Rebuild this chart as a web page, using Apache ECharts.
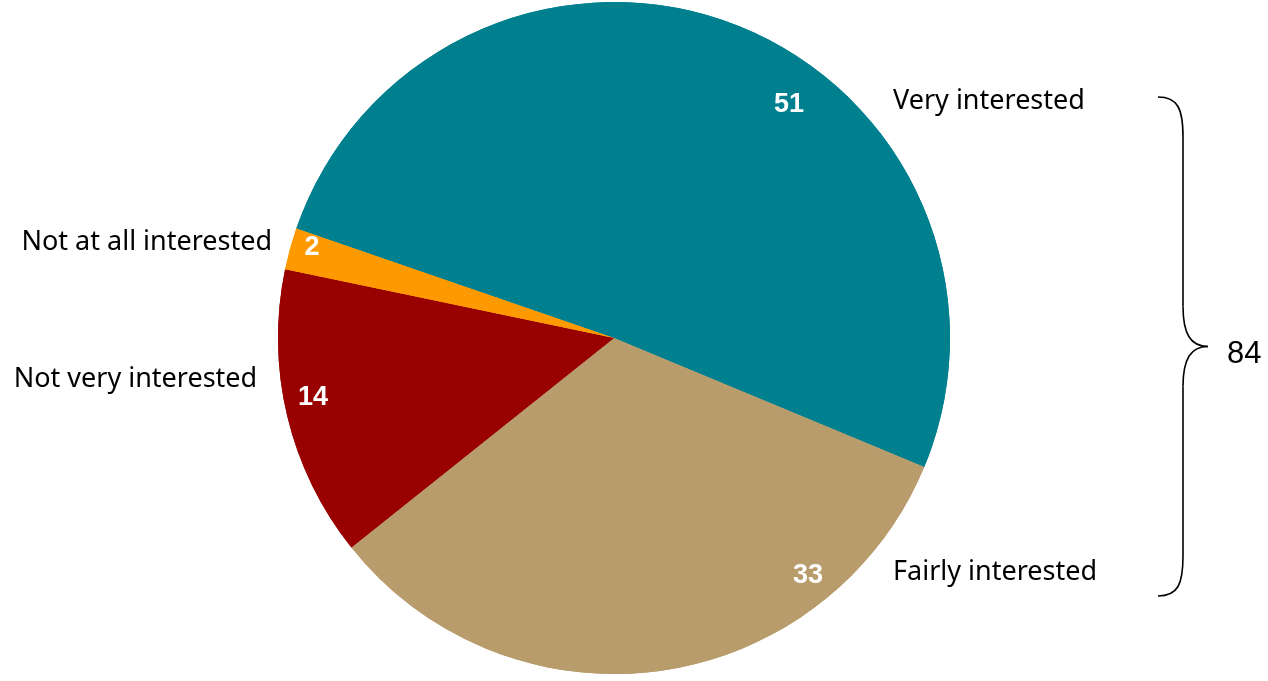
<!DOCTYPE html>
<html>
<head>
<meta charset="utf-8">
<title>Interest</title>
<script src="https://cdn.jsdelivr.net/npm/echarts@6/dist/echarts.min.js"></script>
<style>
  html, body { margin: 0; padding: 0; background: #fff; }
  #chart { width: 1268px; height: 681px; }
</style>
</head>
<body>
<div id="chart"></div>
<script>
// Survey answers, in drawing order (clockwise from the start angle)
const categories = ['Very interested', 'Fairly interested', 'Not very interested', 'Not at all interested'];
const values = [51, 33, 14, 2];
const colors = ['#00808F', '#B89C6C', '#990000', '#FF9900'];
// Bracketed subtotal: very + fairly interested
const bracketLabel = String(values[0] + values[1]);

// Layout of the pie (pixels)
const CX = 614, CY = 338, R = 336;
const START_ANGLE = 161;

// Where each label sits: polar angle (deg) and distance as a fraction of R
const valueLabelAngle = [53.1, -50.7, 191.1, 163.4];
const valueLabelDist = [0.867, 0.912, 0.913, 0.938];
const nameLabelAngle = [40.3, -40.0, 186.6, 164.3];
const nameLabelDist = [1.089, 1.084, 1.069, 1.057];

function polar(angleDeg, dist) {
  const a = angleDeg * Math.PI / 180;
  return { x: CX + Math.cos(a) * dist * R, y: CY - Math.sin(a) * dist * R };
}

const data = categories.map((name, i) => ({
  name, value: values[i], itemStyle: { color: colors[i] }
}));

const chart = echarts.init(document.getElementById('chart'), null, { renderer: 'canvas' });

// Curly brace spanning the two "interested" answers
const bx = 1183, bTop = 97, bBot = 596, bMid = (bTop + bBot) / 2, bw = 25;
const braceStyle = { stroke: '#000000', lineWidth: 1.6, fill: null };
function curve(x1, y1, cpx1, cpy1, cpx2, cpy2, x2, y2) {
  return { type: 'bezierCurve', shape: { x1, y1, x2, y2, cpx1, cpy1, cpx2, cpy2 }, style: braceStyle };
}
function seg(x1, y1, x2, y2) {
  return { type: 'line', shape: { x1, y1, x2, y2 }, style: braceStyle };
}
const brace = [
  curve(bx - bw, bTop, bx - 5, bTop, bx, bTop + 12, bx, bTop + 40),
  seg(bx, bTop + 40, bx, bMid - 40),
  curve(bx, bMid - 40, bx, bMid - 12, bx + 8, bMid, bx + bw, bMid),
  curve(bx + bw, bMid, bx + 8, bMid, bx, bMid + 12, bx, bMid + 40),
  seg(bx, bMid + 40, bx, bBot - 40),
  curve(bx, bBot - 40, bx, bBot - 12, bx - 5, bBot, bx - bw, bBot)
];

chart.setOption({
  animation: false,
  backgroundColor: '#ffffff',
  series: [
    {
      type: 'pie',
      center: [CX, CY],
      radius: [0, R],
      startAngle: START_ANGLE,
      clockwise: true,
      data: data,
      silent: true,
      itemStyle: { borderWidth: 0 },
      label: {
        show: true,
        position: 'inside',
        formatter: '{c}',
        color: '#ffffff',
        fontFamily: 'Liberation Sans, Arial, sans-serif',
        fontWeight: 'bold',
        fontSize: 27
      },
      labelLine: { show: false },
      labelLayout: function (p) {
        const pt = polar(valueLabelAngle[p.dataIndex], valueLabelDist[p.dataIndex]);
        return { x: pt.x, y: pt.y, align: 'center', verticalAlign: 'middle' };
      }
    },
    {
      type: 'pie',
      center: [CX, CY],
      radius: [0, R],
      startAngle: START_ANGLE,
      clockwise: true,
      data: data,
      silent: true,
      itemStyle: { color: 'rgba(0,0,0,0)', borderWidth: 0 },
      label: {
        show: true,
        position: 'inside',
        overflow: 'none',
        formatter: '{b}',
        color: '#000000',
        fontFamily: 'Noto Sans, sans-serif',
        fontSize: 27
      },
      labelLine: { show: false },
      labelLayout: function (p) {
        const i = p.dataIndex;
        const pt = polar(nameLabelAngle[i], nameLabelDist[i]);
        const rightSide = Math.cos(nameLabelAngle[i] * Math.PI / 180) > 0;
        return { x: pt.x, y: pt.y, align: rightSide ? 'left' : 'right', verticalAlign: 'middle' };
      }
    }
  ],
  graphic: brace.concat([
    {
      type: 'text',
      x: bx + bw + 19,
      y: bMid + 8,
      style: {
        text: bracketLabel,
        fill: '#000000',
        font: '31px "Liberation Sans", Arial, sans-serif',
        textAlign: 'left',
        textVerticalAlign: 'middle'
      }
    }
  ])
});
</script>
</body>
</html>
